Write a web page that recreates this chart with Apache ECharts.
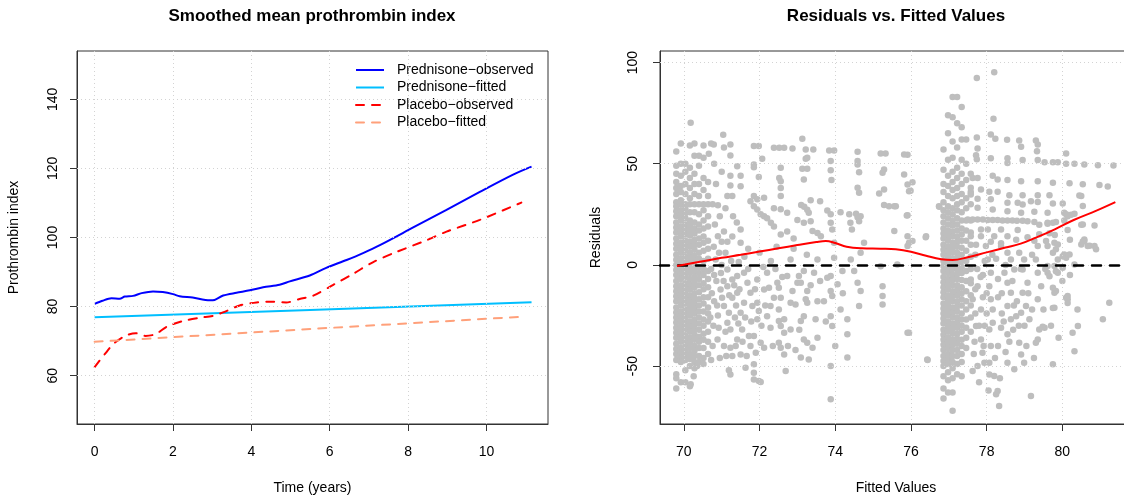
<!DOCTYPE html>
<html>
<head>
<meta charset="utf-8">
<script src="https://cdn.jsdelivr.net/npm/echarts@6/dist/echarts.min.js"></script>
<style>
  html, body { margin: 0; padding: 0; background: #fff; }
  #chart { width: 1124px; height: 498px; }
</style>
</head>
<body>
<div id="chart"></div>
<script>
// left panel: smoothed means over time
const predObsT = [0, 0.2, 0.43, 0.64, 0.77, 0.98, 1.2, 1.49, 1.74, 2.0, 2.17, 2.5, 2.94, 3.06, 3.28, 3.62, 3.96, 4.3, 4.72, 4.98, 5.49, 5.91, 6.43, 6.85, 7.28, 8.13, 8.98, 9.83, 10.68, 11.15]
const predObsY = [80.8, 81.7, 82.4, 82.3, 82.9, 83.1, 83.9, 84.4, 84.2, 83.6, 83.0, 82.6, 81.8, 81.9, 83.2, 84.0, 84.7, 85.6, 86.3, 87.3, 89.0, 91.2, 93.5, 95.5, 97.8, 102.9, 108.0, 113.2, 118.2, 120.5]
const predFitT = [0, 5.5, 11.15]
const predFitY = [76.9, 79.0, 81.25]
const plaObsT = [0, 0.25, 0.5, 0.8, 1.05, 1.3, 1.55, 1.85, 2.25, 2.7, 3.02, 3.36, 3.7, 4.13, 4.55, 4.89, 5.23, 5.57, 6.09, 6.6, 7.11, 7.7, 8.47, 8.98, 9.83, 10.89]
const plaObsY = [62.5, 66.1, 69.4, 71.6, 72.3, 71.5, 72.0, 74.2, 75.8, 76.8, 77.3, 78.7, 80.3, 81.2, 81.4, 81.2, 82.2, 83.1, 86.3, 89.5, 92.9, 95.8, 99.2, 101.7, 105.1, 110.1]
const plaFitT = [0, 5.5, 10.89]
const plaFitY = [69.8, 73.5, 77.05]

const timeTicks = [0, 2, 4, 6, 8, 10]
const indexTicks = [60, 80, 100, 120, 140]

// right panel: residuals vs fitted
const fittedTicks = [70, 72, 74, 76, 78, 80]
const residTicks = [-50, 0, 50, 100]

// dense vertical bands: [fitted, residuals...]
const placeboCols = [
  [69.80, [56, 49, 45, 41, 38, 35, 31, 29, 26.5, 24, 21, 18.5, 16, 13, 10.5, 8, 5, 2.5, 0, -2.5, -5, -8, -10.5, -13, -15.5, -18, -21, -23.5, -26, -28.5, -31, -33.5, -36, -39, -41.5, -44, -47, -54, -56, -61]],
  [69.92, [60, 50, 44, 39, 36, 32, 30, 27, 24.5, 22, 19, 16.5, 14, 11, 8.5, 6, 3, 0.5, -2, -4.5, -7, -10, -12.5, -15, -17.5, -20, -23, -25.5, -28, -30.5, -33, -35.5, -38, -41, -43.5, -46, -48, -58]],
  [70.04, [50, 46, 40, 35, 30, 28, 25.5, 23, 20, 17.5, 15, 12, 9.5, 7, 4, 1.5, -1, -3.5, -6, -9, -11.5, -14, -16.5, -19, -22, -24.5, -27, -29.5, -32, -35, -37.5, -40, -42.5, -45, -47, -52, -58]],
  [70.16, [59, 48, 43, 38, 33, 30, 26, 22, 19.5, 17, 14.5, 11.5, 9, 6, 3.5, 1, -1.5, -4, -7, -9.5, -12, -15, -17.5, -20, -22.5, -25, -28, -30.5, -33, -36, -38.5, -41, -44, -46.5, -50, -60]],
  [70.28, [60, 54, 45, 40, 35, 30, 26, 21, 18, 15.5, 12.5, 10, 7.5, 4.5, 2, -0.5, -3, -6, -8.5, -11, -14, -16.5, -19, -21.5, -24, -27, -29.5, -32, -34.5, -37, -40, -42.5, -45, -48, -51]],
  [70.40, [54, 49, 40, 34, 30, 25, 20, 17, 13, 10, 6, 3, -1, -4, -7, -10, -13.5, -17, -20, -23, -26, -29, -32, -35.5, -38, -41, -45, -48]],
  [70.52, [59, 53, 43, 37, 30, 27, 22, 18, 14, 11, 7, 2, -2, -5, -9, -12, -16, -19, -23, -27, -30, -34, -37, -41, -46, -49]],
  [70.64, [41, 34, 30, 24, 19, 12, 8, 3, -3, -7, -11, -16, -21, -24, -28, -33, -38, -44]]
]
const predCols = [
  [76.86, [57, 47, 40, 36, 31, 27, 24, 21, 18, 15.5, 13, 10, 7.5, 5, 2, -0.5, -3, -6, -8.5, -11, -13.5, -16, -19, -21.5, -24, -26.5, -29, -32, -34.5, -37, -39.5, -42, -45, -47.5, -50, -55, -61, -66]],
  [76.98, [74, 65, 52, 44, 39, 34, 29, 26, 23, 20, 17, 14.5, 12, 9, 6.5, 4, 1, -1.5, -4, -7, -9.5, -12, -15, -17.5, -20, -22.5, -25, -28, -30.5, -33, -36, -38.5, -41, -44, -46.5, -49, -53, -57, -63]],
  [77.10, [83, 73, 61, 53, 46, 41, 37, 33, 28, 25, 22, 19.5, 16.5, 14, 11, 8.5, 6, 3, 0.5, -2, -5, -7.5, -10, -13, -15.5, -18, -21, -23.5, -26, -29, -31.5, -34, -37, -39.5, -42, -45, -48, -51, -56, -63, -72]],
  [77.22, [83, 70, 58, 48, 43, 38, 34, 30, 27, 23, 20, 17, 14, 11.5, 9, 6, 3.5, 1, -2, -4.5, -7, -10, -12.5, -15, -18, -20.5, -23, -26, -28.5, -31, -34, -36.5, -39, -42, -45, -49, -54]],
  [77.34, [78, 68, 62, 52, 45, 40, 35, 31, 26, 22, 18, 15, 12, 8.5, 5, 2, -1, -4, -7.5, -11, -14, -17, -20, -24, -27, -30, -33, -37, -40, -44, -48, -55]],
  [77.46, [62, 50, 42, 33, 28, 22, 17, 12, 7, 2, -3, -8, -13, -18, -22, -27, -31, -36, -41]],
  [77.58, [45, 36, 30, 22, 16, 10, 4, -2, -9, -15, -20, -26, -33]]
]
// scattered points: [fitted, residual]
const sparsePts = [
  [70.18, 70.2], [71.04, 64.3], [70.79, 59.5], [71.23, 59.5], [71.85, 58.7], [71.98, 58.7], [72.38, 57.9], [72.52, 57.9], [72.65, 57.9], [72.87, 57.5],
  [73.13, 62.3], [73.22, 57], [73.42, 57], [73.84, 56.5], [73.97, 56.5], [74.59, 55.9], [75.2, 55.1], [75.33, 55.1], [75.91, 54.4], [70.66, 54.9],
  [71.23, 54.1], [72.07, 52.4], [73.22, 52.5], [73.26, 52.9], [73.88, 51.3], [74.59, 51.3], [74.59, 49.6], [75.29, 47.2], [75.25, 45.5], [75.82, 44.7],
  [71.85, 49.6], [71.85, 48.3], [72.56, 48], [73.13, 47.5], [73.26, 47.5], [73.88, 46.8], [74.63, 45.8], [71.41, 48.8], [71.23, 44], [71.5, 44],
  [71.98, 43.5], [72.52, 43], [72.56, 41.4], [73.17, 42.2], [73.9, 41.9], [74.59, 38.1], [74.63, 35.6], [75.16, 35.3], [75.29, 37.3], [75.91, 39.7],
  [75.95, 36.4], [71.23, 39.2], [71.5, 38.9], [71.28, 34], [71.15, 34], [71.85, 34], [71.94, 32.4], [72.12, 33.2], [72.56, 38], [72.56, 34],
  [73.1, 29.6], [73.18, 28.7], [73.35, 32], [73.6, 31.5], [73.79, 26.9], [73.88, 25], [74.14, 26], [74.37, 25], [74.55, 25.3], [74.59, 23.5],
  [75.29, 29.6], [75.42, 29], [75.56, 29], [75.91, 24.6], [76.75, 28.7], [71.76, 31.5], [71.85, 29], [71.94, 27.4], [72.03, 25], [72.38, 28],
  [72.56, 27.5], [72.73, 25.8], [72.12, 24], [72.2, 23], [72.3, 20.8], [72.38, 19], [72.56, 15], [72.73, 16.5], [72.9, 13], [73.0, 22.2],
  [73.17, 20.8], [73.35, 21.6], [73.4, 16.7], [73.26, 27.2], [73.3, 25.8], [73.53, 15.8], [73.62, 14.2], [73.88, 20.8], [73.92, 17.5], [73.97, 11],
  [74.4, 20.8], [74.44, 17.5], [74.67, 24], [74.63, 21.6], [74.76, 11], [75.56, 16.7], [75.91, 14.2], [75.95, 11], [75.91, 9.3], [76.4, 14.2],
  [71.3, 24], [71.4, 21], [71.5, 17.5], [71.28, 14], [71.15, 11.5], [71.5, 11], [70.9, 14.2], [71.0, 11.5], [71.06, 16.5], [70.79, 9],
  [70.76, 30], [70.9, 29.5], [70.82, 20], [70.95, 24], [71.1, 28], [70.85, 40], [71.0, 46], [70.8, 50], [70.72, 60], [71.06, 58],
  [70.84, 2.7], [70.93, 6], [71.15, -2.2], [71.28, -7.2], [70.97, -12.1], [71.01, -16.2], [71.06, -20.3], [71.19, -23.6], [71.15, -28.6], [71.23, -31.9],
  [70.89, -36.8], [71.06, -40.1], [71.23, -40.9], [71.37, -40.1], [71.5, -44.2], [71.28, -45], [71.23, -54.1], [71.5, -23.6], [71.76, -13.7], [71.81, -20.3],
  [71.94, -18.7], [71.98, -22.8], [71.94, -26.9], [71.72, -35.1], [71.85, -35.1], [71.76, -40.1], [72.03, -38.4], [71.9, -43.4], [72.12, -40.9], [71.63, -50.8],
  [71.85, -49.1], [71.85, -53.3], [71.98, -57.4], [71.85, -56.6], [72.25, -11.3], [72.29, -20.3], [72.47, -8.8], [72.51, -11.3], [72.56, -16.2], [72.51, -22],
  [72.65, -26.9], [72.51, -27.7], [72.56, -30.2], [72.65, -33.5], [72.51, -38.4], [72.56, -40.9], [72.65, -44.2], [72.82, -18.7], [72.82, -31.9], [72.95, -19.5],
  [73.0, -8.8], [73.04, -5.5], [73.17, -3], [73.09, -8.8], [73.26, -12.9], [73.22, -17], [73.26, -18.7], [73.17, -25.3], [73.09, -27.7], [73.17, -36.8],
  [73.26, -38.4], [73.3, -46.7], [73.09, -45.8], [73.48, -26.9], [73.53, -17.9], [73.7, -17.9], [73.53, -36], [73.4, -40.9], [72.69, -52.4], [73.79, -6.3],
  [73.88, -5.5], [73.88, -12.9], [73.92, -15.4], [73.97, 3.5], [74.06, -9.6], [73.88, -25.3], [73.92, -30.2], [74.14, -22], [74.32, -26.9], [74.32, -34.3],
  [74.32, -45.8], [73.88, -50], [73.88, -66.4], [74.41, 2.7], [74.5, -3], [74.59, -8.8], [74.67, -12.9], [74.63, -20.3], [74.67, 6], [75.2, -0.6],
  [75.25, -10.5], [75.25, -15.4], [75.25, -19.5], [75.64, 0.2], [75.91, -33.5], [76.44, -47], [70.35, -50], [70.26, -55], [70.18, -59], [71.19, -52],
  [72.03, -57.9], [71.41, -13.7], [71.59, -18.7], [71.28, -16.2], [71.54, -31.9], [71.41, -36.8], [71.15, -10.5], [71.41, -5.5], [71.59, -3.9], [71.68, -8.8],
  [71.94, -7.2], [72.12, -12.1], [72.2, -3.9], [72.38, -16.2], [72.2, -25.3], [72.29, -31], [72.87, -12.9], [72.73, -5.5], [72.82, 2.7], [73.53, 2.7],
  [73.44, -3.9], [74.19, -3], [70.8, -5], [70.9, -25], [70.78, -30], [71.1, -33], [70.95, -46], [70.8, -18], [71.35, -26], [71.6, 4],
  [71.7, 8], [72.0, 6], [72.3, 2], [72.45, 9], [72.1, -1], [71.0, 0], [70.86, -8], [71.45, 1.5], [72.9, 8], [73.25, 5],
  [70.72, -2], [70.74, -14], [70.7, -26], [70.76, -40], [70.72, -47], [70.88, -20], [70.92, -31], [70.98, -4], [71.05, -8], [71.1, 6],
  [71.12, -45], [71.2, -15], [71.25, 2], [71.33, -10], [71.38, -20], [71.44, -29], [71.47, -12], [71.55, -38], [71.62, -26], [71.66, -45],
  [71.7, -2], [71.78, -28], [71.88, -12], [72.05, -30], [72.15, -20], [72.35, -40], [72.42, -2], [72.6, -6], [72.75, -40], [72.95, -42],
  [73.05, -32], [73.35, -10], [73.6, -8], [73.75, -28], [74.0, -40], [74.2, -14],
  [77.74, 92.4], [78.2, 95.2], [78.18, 72.2], [77.74, 63], [78.11, 64.4], [78.23, 62.3], [78.54, 61.9], [78.86, 61.5], [79.3, 61.5], [79.35, 59.5],
  [77.76, 57.5], [77.72, 54.2], [77.74, 52.2], [78.91, 58.4], [79.33, 56.2], [80.1, 55], [79.53, 50.7], [79.75, 50.7], [79.88, 50.7], [80.1, 50],
  [80.32, 50], [80.58, 49.6], [80.94, 49.2], [81.35, 49.1], [78.11, 52.7], [78.55, 52.7], [78.95, 51.9], [79.35, 51.9], [78.55, 50.4], [77.63, 43],
  [77.76, 43], [78.16, 44.1], [78.29, 42.2], [78.55, 41.9], [78.91, 41.4], [79.35, 41.4], [79.75, 40.6], [80.19, 40.3], [80.54, 39.8], [80.98, 39.5],
  [77.58, 38.1], [77.85, 37.3], [78.07, 36.1], [78.29, 36.1], [78.6, 34.4], [78.95, 34.4], [79.35, 34.4], [79.66, 34.4], [80.01, 30.4], [80.5, 34],
  [80.54, 29.1], [77.58, 34.8], [77.76, 32.7], [78.11, 32.4], [78.55, 30.7], [78.82, 30.7], [78.95, 29.9], [79.17, 31.5], [79.35, 31.1], [79.75, 30.4],
  [77.76, 28.2], [78.16, 27.4], [78.55, 26.5], [78.91, 25.8], [79.26, 26.3], [79.61, 25.8], [80.05, 25.8], [80.32, 25.3], [77.5, 22.5], [77.63, 22.5],
  [77.76, 22.5], [77.9, 22.5], [78.03, 22.2], [78.16, 22.2], [78.29, 22.2], [78.42, 22], [78.55, 22], [78.68, 22], [78.8, 21.8], [78.95, 21.8],
  [79.08, 21.6], [77.85, 17.5], [78.03, 17.5], [78.38, 17.5], [78.82, 17.2], [79.26, 21.2], [79.39, 19.8], [79.61, 20.4], [79.83, 21.2], [80.05, 21.9],
  [80.1, 25], [80.14, 24.1], [80.54, 20], [80.85, 19.5], [77.58, 14.2], [77.85, 14.2], [78.2, 14.2], [78.11, 11.5], [78.38, 10.7], [78.55, 14.2],
  [78.78, 12.5], [79.08, 13.7], [79.26, 12], [79.39, 15.1], [79.79, 10.9], [80.58, 11.8], [80.85, 9.3], [75.82, 54.6], [75.99, 36.6], [76.04, 40.9],
  [75.89, 24.4], [76.04, 11.8], [76.39, 13.7], [75.6, 29], [76.74, 29], [75.95, -33.5], [76.43, -46.7],
  [77.58, -7.2], [77.63, -17], [77.76, -10.5], [77.85, -22], [77.72, -30.2], [77.85, -36.8], [77.89, -43.4], [77.76, -50], [77.63, -52.4], [77.98, 9.3],
  [78.03, 2.7], [78.11, -3.9], [78.07, -10.5], [78.11, -17], [78.16, -22], [78.16, -28.6], [78.07, -31.9], [78.11, -40.1], [78.07, -48.3], [78.2, -54.9],
  [78.29, -62.3], [78.33, -69.7], [77.94, -48.3], [78.07, -54.1], [78.25, -63.9], [78.38, 9.3], [78.55, 6], [78.64, 2.7], [78.47, -3.9], [78.73, -2.2],
  [78.55, -8.8], [78.64, -13.7], [78.55, -20.3], [78.78, -25.3], [78.64, -26.9], [78.38, -31], [78.55, -34.3], [78.86, -38.4], [78.91, -44.2], [78.73, -51.6],
  [78.55, -48.3], [78.86, 6], [78.99, 2.7], [78.95, -2.2], [79.08, -8.8], [78.95, -13.7], [79.04, -20.3], [78.91, -23.6], [79.13, -26.9], [78.99, -48.3],
  [79.17, -64.8], [79.35, 9.3], [79.3, 2.7], [79.35, -3.9], [79.44, -10.5], [79.35, -17], [79.39, -31.9], [79.53, -31], [79.35, -36.8], [79.3, -38.4],
  [79.75, -49.1], [79.61, 9.3], [79.75, 6], [79.88, 10.1], [79.61, -3.9], [79.75, -11.3], [79.79, -13.7], [79.79, -21.2], [79.88, 2.7], [80.05, 5.2],
  [80.1, 3.5], [80.01, -1.4], [79.88, -3.9], [80.14, -15.4], [80.14, -17], [80.32, 0.2], [80.27, -33.5], [80.32, -42.6], [80.41, -30.2], [80.67, 9.3],
  [80.89, 7.7], [81.07, -26.9], [81.24, -18.7], [80.58, 12.6], [80.5, 10.1], [80.45, 34.3], [80.23, 24.8], [79.61, 20.8], [79.75, 20.8], [80.5, 19.9],
  [79.66, 15.6], [79.8, 14.8], [80.14, 17.3], [80.2, 12.4], [80.54, 11.6], [80.72, 9.5], [79.57, 11.8], [79.83, 7.7], [80.01, 4.3], [80.19, 5.1],
  [79.61, -0.5], [79.79, -0.5], [79.83, -3.1], [79.66, -5.6], [79.83, -12.9], [80.1, -16.2], [80.14, -18.8], [79.75, -21.3], [79.48, -30.6], [81.2, 38.8],
  [77.7, 5], [77.75, -2], [77.9, -5], [77.95, 2], [78.0, -14], [78.3, -7], [78.4, -14], [78.25, 3], [77.7, -24], [78.3, -40],
  [77.68, -38], [77.95, -30], [78.4, -24], [78.7, -32], [78.8, -18], [79.0, -30], [79.2, 5], [79.1, -14], [78.5, -43], [77.8, -58],
  [77.66, -44], [77.7, -12], [77.72, 10], [77.8, -30], [77.84, -6], [77.9, -16], [77.92, -40], [78.0, -24], [78.05, -62], [78.15, 5],
  [78.22, -46], [78.3, -16], [78.35, -56], [78.45, -28], [78.5, 0], [78.6, -38], [78.68, -8], [78.72, -20], [78.85, -30], [78.9, -2],
  [79.05, -40], [79.2, -22], [79.25, -46], [79.5, -22], [79.55, -2], [79.7, -30], [79.9, -36], [80.0, -8], [80.2, -5], [80.4, -22]
]
const loessX = [69.82, 70.5, 71.0, 71.5, 72.0, 72.5, 73.0, 73.5, 73.75, 74.0, 74.3, 74.7, 75.2, 75.6, 76.0, 76.4, 76.8, 77.1, 77.5, 78.0, 78.5, 78.9, 79.3, 79.8, 80.3, 80.9, 81.4]
const loessY = [-0.5, 1.8, 3.5, 5.0, 6.6, 8.2, 9.8, 11.3, 11.8, 10.8, 9.0, 8.2, 8.0, 7.7, 6.5, 4.5, 2.8, 2.4, 3.8, 6.2, 8.6, 10.5, 13.5, 17.6, 22.2, 26.8, 31.0]

const zip = (xs, ys) => xs.map((x, i) => [x, ys[i]])
const residPts = []
placeboCols.concat(predCols).forEach(([f, rs]) => rs.forEach(r => residPts.push([f, r])))
sparsePts.forEach(p => residPts.push(p))

const FONT = 'Liberation Sans, Arial, Helvetica, sans-serif'
const gridLine = { color: '#d3d3d3', type: [1, 3], width: 1 }

function valueAxis(idx, min, max, ticks, name, gap, labelMargin, isY) {
  return {
    type: 'value', gridIndex: idx, min, max,
    name, nameLocation: 'middle', nameGap: gap,
    nameTextStyle: { fontFamily: FONT, fontSize: 14, color: '#000' },
    axisLine: { show: true, onZero: false, lineStyle: { color: '#333', width: 1 } },
    splitLine: { show: false },
    axisTick: { show: true, length: 7, customValues: ticks, lineStyle: { color: '#333', width: 1 } },
    axisLabel: {
      customValues: ticks, fontFamily: FONT, fontSize: 14, color: '#000',
      rotate: isY ? 90 : 0, margin: labelMargin
    }
  }
}

function gridLines(xi, yi, xs, ys) {
  return {
    type: 'line', xAxisIndex: xi, yAxisIndex: yi, data: [], z: 0, silent: true,
    markLine: {
      silent: true, symbol: ['none', 'none'], label: { show: false },
      lineStyle: gridLine, animation: false,
      data: xs.map(v => ({ xAxis: v })).concat(ys.map(v => ({ yAxis: v })))
    }
  }
}

const chart = echarts.init(document.getElementById('chart'))
chart.setOption({
  animation: false,
  backgroundColor: '#fff',
  title: [
    { text: 'Smoothed mean prothrombin index', left: 312, top: 8, textAlign: 'center', padding: 0,
      textStyle: { fontFamily: FONT, fontSize: 17, fontWeight: 'bold', color: '#000' } },
    { text: 'Residuals vs. Fitted Values', left: 896, top: 8, textAlign: 'center', padding: 0,
      textStyle: { fontFamily: FONT, fontSize: 17, fontWeight: 'bold', color: '#000' } }
  ],
  grid: [
    { left: 77, top: 51, width: 471, height: 373, show: true, borderColor: '#333', borderWidth: 1,
      backgroundColor: 'transparent', containLabel: false, outerBoundsMode: 'none' },
    { left: 660, top: 51, width: 472, height: 373, show: true, borderColor: '#333', borderWidth: 1,
      backgroundColor: 'transparent', containLabel: false, outerBoundsMode: 'none' }
  ],
  xAxis: [
    valueAxis(0, -0.45, 11.57, timeTicks, 'Time (years)', 57, 21, false),
    valueAxis(1, 69.37, 81.84, fittedTicks, 'Fitted Values', 57, 21, false)
  ],
  yAxis: [
    valueAxis(0, 46, 154, indexTicks, 'Prothrombin index', 56, 17, true),
    valueAxis(1, -78.6, 105.7, residTicks, 'Residuals', 57, 20, true)
  ],
  legend: {
    data: ['Prednisone\u2212observed', 'Prednisone\u2212fitted', 'Placebo\u2212observed', 'Placebo\u2212fitted'],
    orient: 'vertical', left: 355, top: 63, padding: 0,
    itemWidth: 28, itemHeight: 14, itemGap: 3.5,
    itemStyle: { opacity: 0 },
    textStyle: { fontFamily: FONT, fontSize: 14, color: '#000', padding: [0, 0, 0, 8] }
  },
  series: [
    gridLines(0, 0, timeTicks, indexTicks),
    gridLines(1, 1, fittedTicks, residTicks),
    { name: 'Prednisone\u2212observed', type: 'line', xAxisIndex: 0, yAxisIndex: 0, showSymbol: false, symbol: 'none',
      smooth: 0.3, data: zip(predObsT, predObsY), lineStyle: { color: '#0000ff', width: 2 }, itemStyle: { color: '#0000ff' } },
    { name: 'Prednisone\u2212fitted', type: 'line', xAxisIndex: 0, yAxisIndex: 0, showSymbol: false, symbol: 'none',
      data: zip(predFitT, predFitY), lineStyle: { color: '#00bfff', width: 2 }, itemStyle: { color: '#00bfff' } },
    { name: 'Placebo\u2212observed', type: 'line', xAxisIndex: 0, yAxisIndex: 0, showSymbol: false, symbol: 'none',
      smooth: 0.3, data: zip(plaObsT, plaObsY), lineStyle: { color: '#ff0000', width: 2, type: [8, 8], cap: 'round' }, itemStyle: { color: '#ff0000' } },
    { name: 'Placebo\u2212fitted', type: 'line', xAxisIndex: 0, yAxisIndex: 0, showSymbol: false, symbol: 'none',
      data: zip(plaFitT, plaFitY), lineStyle: { color: '#ffa07a', width: 2, type: [8, 8], cap: 'round' }, itemStyle: { color: '#ffa07a' } },
    { name: 'residuals', type: 'scatter', xAxisIndex: 1, yAxisIndex: 1, data: residPts,
      symbol: 'circle', symbolSize: 6.5, itemStyle: { color: '#bebebe', opacity: 1 }, silent: true,
      markLine: {
        silent: true, symbol: ['none', 'none'], label: { show: false }, animation: false,
        lineStyle: { color: '#000', width: 2.5, type: [9, 9], cap: 'round' },
        data: [{ yAxis: 0 }]
      } },
    { name: 'loess', type: 'line', xAxisIndex: 1, yAxisIndex: 1, showSymbol: false, symbol: 'none', smooth: 0.4,
      data: zip(loessX, loessY), lineStyle: { color: '#ff0000', width: 2 }, z: 5 }
  ]
})
</script>
</body>
</html>
